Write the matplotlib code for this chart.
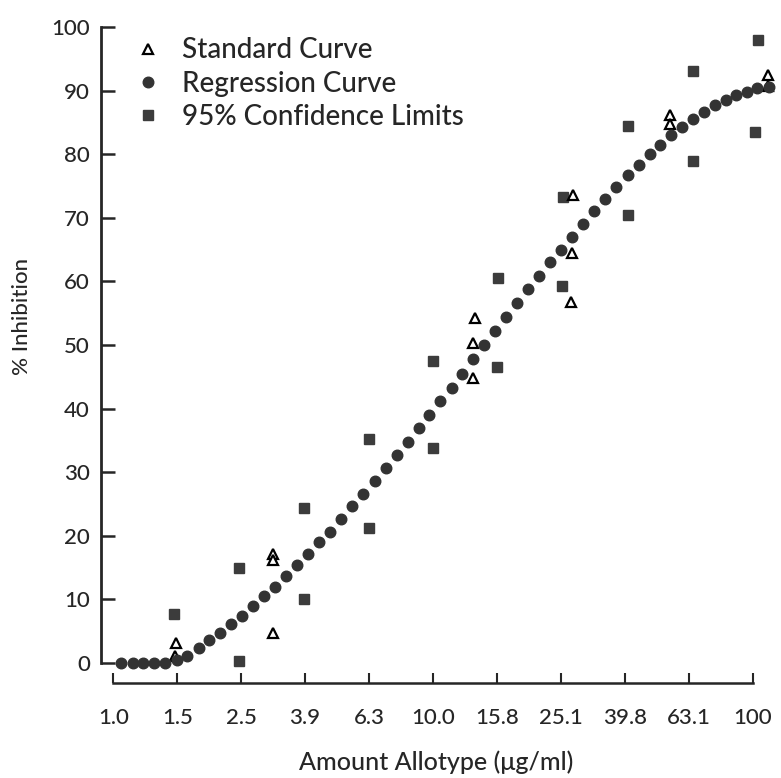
import matplotlib
matplotlib.use("Agg")
import matplotlib.pyplot as plt

plt.rcParams['font.family'] = ['Lato', 'DejaVu Sans']

# regression curve (filled dots)
reg_x = [1.06, 1.15, 1.24, 1.34, 1.45, 1.58, 1.70, 1.85, 1.99, 2.16,
         2.34, 2.53, 2.74, 2.95, 3.21, 3.47, 3.75, 4.06, 4.39, 4.75,
         5.17, 5.59, 6.05, 6.59, 7.13, 7.69, 8.35, 9.02, 9.74, 10.54,
         11.44, 12.35, 13.37, 14.41, 15.66, 16.96, 18.35, 19.78, 21.46, 23.28,
         25.14, 27.22, 29.46, 31.89, 34.51, 37.28, 40.64, 43.99, 47.62, 51.29,
         55.53, 60.23, 65.21, 70.58, 76.23, 82.33, 88.65, 95.77, 103.4, 112.2]
reg_y = [0.0, 0.0, 0.0, 0.0, 0.0, 0.5, 1.1, 2.3, 3.6, 4.7,
         6.2, 7.4, 9.0, 10.5, 12.0, 13.7, 15.4, 17.1, 19.0, 20.6,
         22.7, 24.7, 26.6, 28.6, 30.7, 32.7, 34.7, 36.9, 39.0, 41.2,
         43.3, 45.5, 47.8, 50.0, 52.2, 54.4, 56.6, 58.8, 60.8, 63.0,
         65.0, 67.0, 69.1, 71.1, 73.0, 74.8, 76.7, 78.3, 80.0, 81.5,
         83.0, 84.3, 85.5, 86.7, 87.7, 88.5, 89.3, 89.8, 90.4, 90.6]

# standard curve (open triangles)
std_x = [1.57, 1.56, 3.17, 3.17, 3.16, 13.5, 13.3, 13.3, 27.5, 27.2, 27.0, 55.1, 55.1, 112.0, 112.0]
std_y = [3.1, 1.1, 17.2, 16.2, 4.7, 54.3, 50.3, 44.8, 73.6, 64.4, 56.8, 86.2, 84.8, 92.5, 90.8]

# 95% confidence limits (squares)
conf_x = [1.55, 2.48, 2.48, 3.95, 3.95, 6.32, 6.30, 10.0, 9.97, 16.0,
          15.9, 25.5, 25.3, 40.6, 40.6, 65.2, 65.2, 103.7, 102.0]
conf_y = [7.7, 0.3, 15.0, 10.0, 24.3, 35.2, 21.2, 47.5, 33.8, 60.6,
          46.6, 73.2, 59.2, 70.4, 84.4, 93.1, 79.0, 98.0, 83.5]

x_ticks = [1.0, 1.585, 2.512, 3.981, 6.310, 10.0, 15.85, 25.12, 39.81, 63.10, 100.0]
x_tick_labels = ['1.0', '1.5', '2.5', '3.9', '6.3', '10.0', '15.8', '25.1', '39.8', '63.1', '100']
y_ticks = [0, 10, 20, 30, 40, 50, 60, 70, 80, 90, 100]

ink = '#262626'

fig = plt.figure(figsize=(7.81, 7.78), dpi=100)
ax = fig.add_axes([0.1293, 0.1221, 0.8593, 0.8432])
ax.set_xscale('log')
ax.set_xlim(0.915, 115)
ax.set_ylim(-3.15, 100)

ax.plot(conf_x, conf_y, linestyle='none', marker='s', markersize=7,
        color='#3c3c3c', label='95% Confidence Limits', clip_on=False, zorder=3)
ax.plot(std_x, std_y, linestyle='none', marker='^', markersize=7,
        markerfacecolor='white', markeredgecolor='black', markeredgewidth=1.6,
        label='Standard Curve', clip_on=False, zorder=4)
ax.plot(reg_x, reg_y, linestyle='none', marker='o', markersize=7.6,
        color='#333333', label='Regression Curve', clip_on=False, zorder=5)

ax.spines['top'].set_visible(False)
ax.spines['right'].set_visible(False)
ax.spines['left'].set_bounds(0, 100)
ax.spines['bottom'].set_bounds(1, 100)
ax.spines['left'].set_linewidth(2.0)
ax.spines['bottom'].set_linewidth(1.8)
ax.spines['left'].set_color(ink)
ax.spines['bottom'].set_color(ink)

ax.set_xticks(x_ticks)
ax.set_xticklabels(x_tick_labels)
ax.minorticks_off()
ax.set_yticks(y_ticks)
ax.tick_params(axis='y', direction='in', length=10, width=1.8, pad=8,
               labelsize=16, colors=ink)
ax.tick_params(axis='x', direction='in', length=7, width=1.5, pad=18,
               labelsize=16, colors=ink)
for t in ax.get_xticklabels() + ax.get_yticklabels():
    t.set_fontweight('medium')

ax.set_xlabel('Amount Allotype (\u03bcg/ml)', fontsize=18, color=ink,
              labelpad=16, fontweight='medium')
ax.set_ylabel('% Inhibition', fontsize=16, color=ink, fontweight='medium')
ax.yaxis.set_label_coords(-0.103, 0.559)

h, l = ax.get_legend_handles_labels()
order = [1, 2, 0]
leg = ax.legend([h[i] for i in order], [l[i] for i in order], loc='upper left',
                bbox_to_anchor=(0.049, 0.984), frameon=False, fontsize=20,
                handlelength=1.0, handletextpad=0.72, labelspacing=0.26,
                borderpad=0, borderaxespad=0, labelcolor=ink)
for t in leg.get_texts():
    t.set_fontweight('medium')

fig.savefig('out.png', dpi=100)
